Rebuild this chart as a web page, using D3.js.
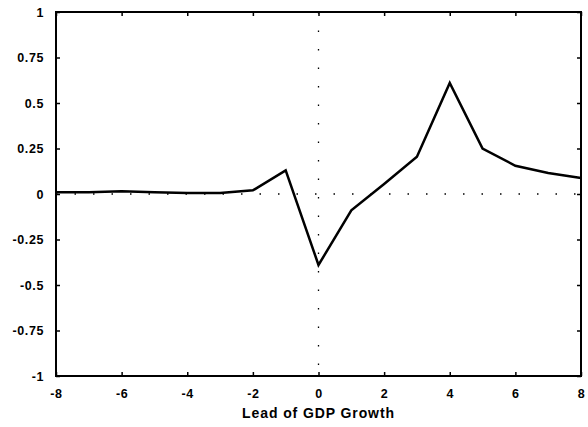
<!DOCTYPE html>
<html>
<head>
<meta charset="utf-8">
<title>Lead of GDP Growth</title>
<script src="https://cdn.jsdelivr.net/npm/d3@7"></script>
<style>
  body { margin: 0; background: #fff; }
  text { font-family: "Liberation Sans", Arial, sans-serif; font-weight: bold; fill: #000; }
</style>
</head>
<body>
<script>
// data
var leads = [-8, -7, -6, -5, -4, -3, -2, -1, 0, 1, 2, 3, 4, 5, 6, 7, 8];
var corr  = [0.01, 0.01, 0.015, 0.01, 0.005, 0.005, 0.02, 0.13, -0.39, -0.09, 0.055, 0.205, 0.61, 0.25, 0.155, 0.115, 0.088];
var xTicks = [-8, -6, -4, -2, 0, 2, 4, 6, 8];
var yTicks = [-1, -0.75, -0.5, -0.25, 0, 0.25, 0.5, 0.75, 1];

var width = 588, height = 427;
var plotL = 56, plotR = 581, plotT = 12, plotB = 376;

var svg = d3.select("body").append("svg")
  .attr("width", width)
  .attr("height", height);

var x = d3.scaleLinear().domain([-8, 8]).range([plotL, plotR]);
var y = d3.scaleLinear().domain([-1, 1]).range([plotB, plotT]);

// dotted zero lines
svg.append("line")
  .attr("x1", x(0)).attr("x2", x(0))
  .attr("y1", plotT).attr("y2", plotB)
  .attr("stroke", "#000").attr("stroke-width", 1.3)
  .attr("stroke-dasharray", "1.5,17");
svg.append("line")
  .attr("x1", plotL).attr("x2", plotR)
  .attr("y1", y(0)).attr("y2", y(0))
  .attr("stroke", "#000").attr("stroke-width", 1.5)
  .attr("stroke-dasharray", "1.5,17");

// axes, ticks inward, plain hyphen minus like the original
var fmt = function(d) { return String(d); };
svg.append("g")
  .attr("transform", "translate(0," + plotB + ")")
  .call(d3.axisBottom(x).tickValues(xTicks).tickSize(-4).tickPadding(13).tickFormat(fmt));
svg.append("g")
  .attr("transform", "translate(0," + plotT + ")")
  .call(d3.axisTop(x).tickValues(xTicks).tickSize(-4).tickFormat(""));
svg.append("g")
  .attr("transform", "translate(" + plotL + ",0)")
  .call(d3.axisLeft(y).tickValues(yTicks).tickSize(-4).tickPadding(12).tickFormat(fmt));
svg.append("g")
  .attr("transform", "translate(" + plotR + ",0)")
  .call(d3.axisRight(y).tickValues(yTicks).tickSize(-4).tickFormat(""));

svg.selectAll(".domain").remove();
svg.selectAll(".tick line").attr("stroke", "#000").attr("stroke-width", 1.5);
svg.selectAll(".tick text")
  .attr("font-size", 12.5)
  .style("letter-spacing", "0.6px");

// frame
svg.append("rect")
  .attr("x", plotL).attr("y", plotT)
  .attr("width", plotR - plotL).attr("height", plotB - plotT)
  .attr("fill", "none").attr("stroke", "#000").attr("stroke-width", 2);

// series line
var line = d3.line()
  .x(function(d, i) { return x(leads[i]); })
  .y(function(d) { return y(d); });
svg.append("path")
  .datum(corr)
  .attr("d", line)
  .attr("fill", "none")
  .attr("stroke", "#000")
  .attr("stroke-width", 2.5)
  .attr("stroke-linejoin", "miter");

// x label
svg.append("text")
  .attr("x", x(0))
  .attr("y", 418)
  .attr("text-anchor", "middle")
  .attr("font-size", 14)
  .style("letter-spacing", "0.9px")
  .text("Lead of GDP Growth");
</script>
</body>
</html>
